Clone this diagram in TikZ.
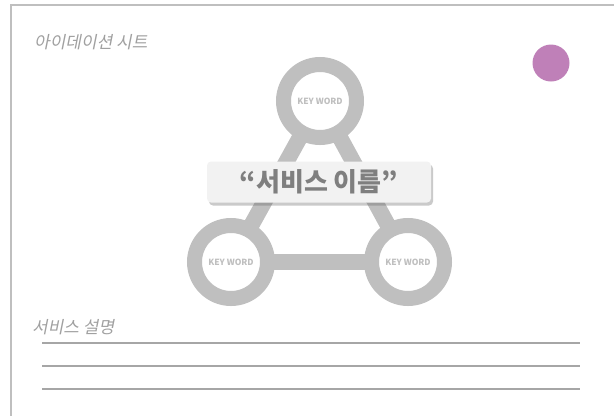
\documentclass[tikz,border=0pt]{standalone}
\usepackage{fontspec}
\usepackage{xcolor}
\usepackage{tikz}
\usetikzlibrary{shadows,backgrounds}

\newfontfamily\krfont{Noto Sans CJK KR}
\newfontfamily\krslant[FakeSlant=0.2]{Noto Sans CJK KR}

\definecolor{ringgray}{HTML}{BFBFBF}
\definecolor{textgray}{HTML}{7F7F7F}
\definecolor{headgray}{HTML}{A0A0A0}
\definecolor{rulegray}{HTML}{A6A6A6}
\definecolor{dotpurple}{HTML}{BF80B8}

\begin{document}
\begin{tikzpicture}[x=1pt, y=-1pt,
  ring/.style={circle, draw=ringgray, line width=15pt, fill=white,
               minimum size=73pt, inner sep=0pt,
               font=\krfont\bfseries\fontsize{8.5}{9}\selectfont,
               text=ringgray},
  link/.style={draw=ringgray, line width=16pt},
  namebox/.style={draw=none, fill=black!5, rounded corners=4pt,
                  minimum width=224pt, minimum height=41pt,
                  font=\krfont\bfseries\fontsize{26}{28}\selectfont,
                  text=textgray,
                  drop shadow={shadow xshift=2pt, shadow yshift=-3pt,
                               opacity=0.35, fill=black!60}},
  heading/.style={anchor=west, inner sep=0pt, text=headgray,
                  font=\krslant\fontsize{17}{18}\selectfont},
  frame/.style={draw=ringgray, line width=2.5pt},
  rule/.style={draw=rulegray, line width=1.2pt}
]
  \useasboundingbox (0,0) rectangle (614,416);

  % sheet border
  \draw[frame] (614,5) -- (11,5) -- (11,416);

  \node[heading] (title) at (34,42) {아이데이션 시트};
  \node[circle, fill=dotpurple, minimum size=37pt, inner sep=0pt] (dot)
    at (551,63) {};

  % key word rings
  \node[ring] (kwtop)   at (320,101) {KEY WORD};
  \node[ring] (kwleft)  at (231,262) {KEY WORD};
  \node[ring] (kwright) at (408,262) {KEY WORD};

  \begin{scope}[on background layer]
    \draw[link] (kwtop.center) -- (kwleft.center);
    \draw[link] (kwtop.center) -- (kwright.center);
    \draw[link] (kwleft.center) -- (kwright.center);
  \end{scope}

  % service name
  \node[namebox] (name) at (319,182) {“서비스 이름”};

  % description
  \node[heading] (desc) at (32,327) {서비스 설명};
  \foreach \y in {343,366,389}
    \draw[rule] (42,\y) -- (580,\y);
\end{tikzpicture}
\end{document}
